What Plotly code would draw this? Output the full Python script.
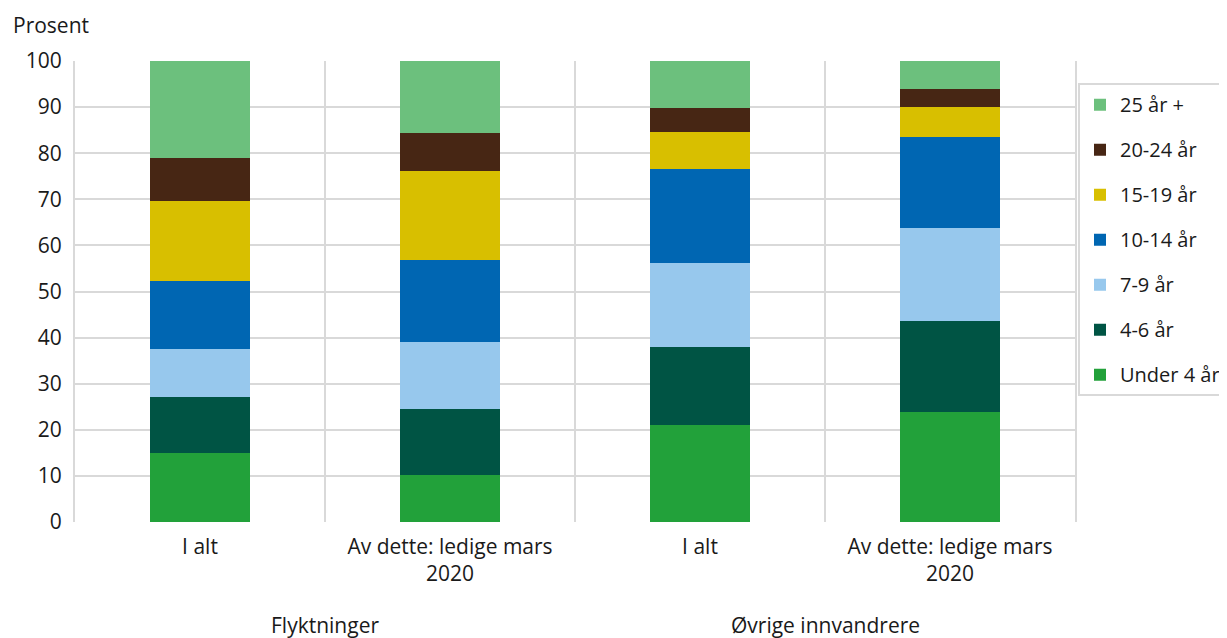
import plotly.graph_objects as go

categories = ["I alt", "Av dette: ledige mars<br>2020", "I alt", "Av dette: ledige mars<br>2020"]
groups = ["Flyktninger", "Øvrige innvandrere"]
series_names = ["Under 4 år", "4-6 år", "7-9 år", "10-14 år", "15-19 år", "20-24 år", "25 år +"]
under4 = [15.0, 10.2, 21.0, 23.9]
aar4_6 = [12.1, 14.3, 17.0, 19.7]
aar7_9 = [10.4, 14.5, 18.2, 20.2]
aar10_14 = [14.8, 17.8, 20.4, 19.7]
aar15_19 = [17.3, 19.3, 8.0, 6.5]
aar20_24 = [9.4, 8.3, 5.2, 3.9]
aar25 = [21.0, 15.6, 10.2, 6.1]
y_ticks = [0, 10, 20, 30, 40, 50, 60, 70, 80, 90, 100]

colors = ["#22a13a", "#005444", "#97c8ed", "#0066b2", "#d8bf00", "#472614", "#6cc07d"]
values = [under4, aar4_6, aar7_9, aar10_14, aar15_19, aar20_24, aar25]

xpos = list(range(len(categories)))
font = "Open Sans, Noto Sans, sans-serif"
grid = "#d9d9d9"

fig = go.Figure()
n = len(series_names)
for i, (name, vals, col) in enumerate(zip(series_names, values, colors)):
    fig.add_trace(go.Bar(x=xpos, y=vals, name=name, marker=dict(color=col, line=dict(width=0)),
                         width=0.4, legendgroup=name, legendrank=100 + (n - i)))

fig.update_layout(
    barmode="stack",
    width=1219, height=630,
    margin=dict(l=67, r=152, t=53, b=116, autoexpand=False),
    paper_bgcolor="white", plot_bgcolor="white",
    font=dict(family=font, size=21, color="#1a1a1a"),
    legend=dict(x=1.003, y=0.952, xanchor="left", yanchor="top",
                traceorder="grouped", tracegroupgap=16,
                bordercolor=grid, borderwidth=2,
                font=dict(size=20), itemwidth=30),
    showlegend=True,
)
fig.update_yaxes(range=[0, 100], tickvals=y_ticks, showgrid=True, gridcolor=grid, gridwidth=2,
                 zeroline=False, showline=True, mirror=True, linecolor=grid, linewidth=2,
                 ticks="", ticklabelstandoff=7, fixedrange=True)
fig.update_xaxes(range=[-0.5, 3.5], tickvals=xpos, ticktext=categories, showgrid=False,
                 zeroline=False, showline=False, ticks="", ticklabelstandoff=10,
                 minor=dict(tickvals=[-0.5, 0.5, 1.5, 2.5, 3.5], showgrid=True, gridcolor=grid, gridwidth=2, ticks=""))

fig.add_annotation(text="Prosent", xref="paper", yref="paper", x=-0.064, y=1.078, xanchor="left", yanchor="middle",
                   showarrow=False, font=dict(size=21))
for i, g in enumerate(groups):
    fig.add_annotation(text=g, xref="x", yref="paper", x=0.5 + 2 * i, y=-0.223, xanchor="center", yanchor="middle",
                       showarrow=False, font=dict(size=21))

fig.write_html("out.html")
